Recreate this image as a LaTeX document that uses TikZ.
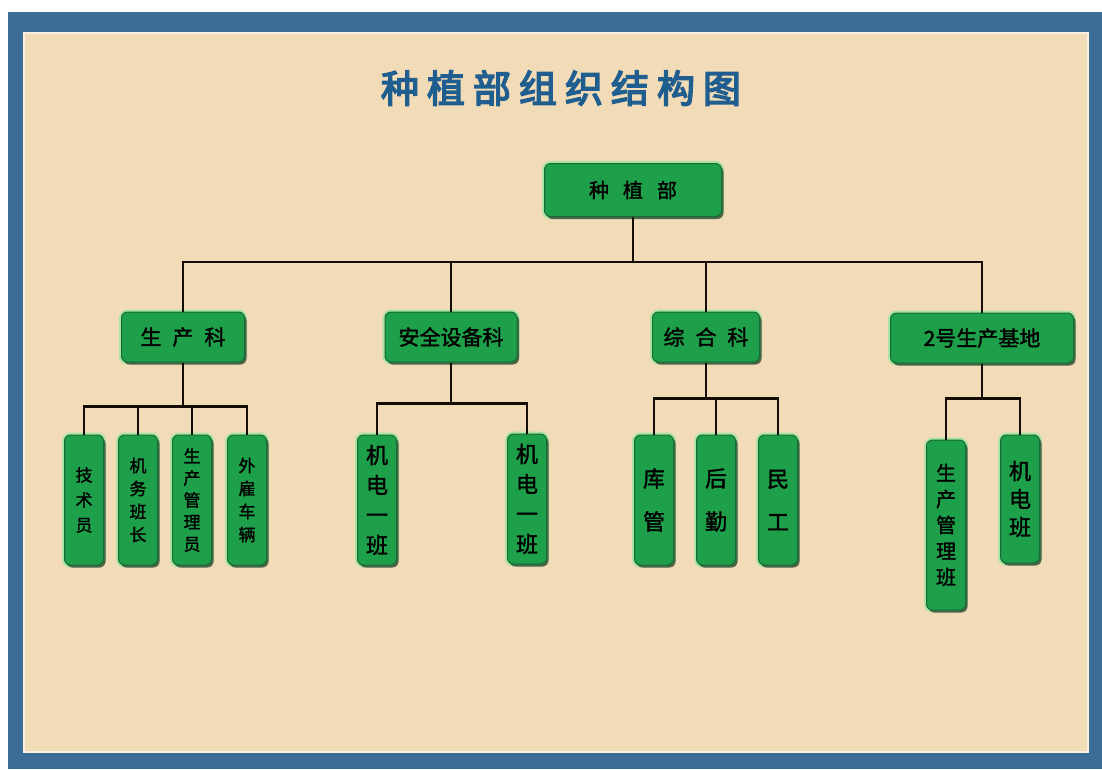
\documentclass[tikz,border=0pt]{standalone}
\usepackage{fontspec}
\usepackage{tikz}
\usetikzlibrary{shadows}
\newfontfamily\cjk[FakeBold=1.5]{Noto Sans CJK SC}
\newfontfamily\titlecjk[FakeBold=4]{Noto Sans CJK SC}
\definecolor{paper}{HTML}{F2DCB8}
\definecolor{frameblue}{HTML}{3B6E94}
\definecolor{boxgreen}{HTML}{1E9F4A}
\definecolor{boxedge}{HTML}{166B34}
\definecolor{halo}{HTML}{A9E3A4}
\definecolor{titleblue}{HTML}{1F5E8E}
\tikzset{
	box/.style = {rounded corners=6pt, fill=boxgreen, draw=boxedge, line width=1pt, inner sep=0pt,
		preaction={draw=halo, line width=5pt}, drop shadow={shadow xshift=2pt, shadow yshift=-2.5pt, fill=black, opacity=.55},
		font=\cjk, text=black},
	head/.style = {box, minimum width=177, minimum height=53, font=\cjk\fontsize{20}{24}\selectfont},
	dept/.style = {box, minimum height=50, font=\cjk\fontsize{21}{25}\selectfont},
	leaf/.style = {box, minimum width=39, minimum height=130, align=center},
	link/.style = {line width=2.6pt, black!90!brown}
}
\begin{document}
\begin{tikzpicture}[x=1pt, y=-1pt]
	\useasboundingbox (0,0) rectangle (1102,769);
	\fill[white] (0,0) rectangle (1102,769);
	\fill[frameblue] (8,12) rectangle (1102,769);
	\fill[paper] (23,32) rectangle (1089,753);
	\draw[white!60!paper, line width=2pt] (24,33) rectangle (1088,752);

	\node[font=\titlecjk\fontsize{38}{40}\selectfont, text=titleblue] (title) at (561,88)
		{种\hspace{8pt}植\hspace{8pt}部\hspace{8pt}组\hspace{8pt}织\hspace{8pt}结\hspace{8pt}构\hspace{8pt}图};

	\node[head] (root) at (633,190) {种\hspace{14pt}植\hspace{14pt}部};

	\node[dept, minimum width=123] (kA) at (183,337) {生\hspace{11pt}产\hspace{11pt}科};
	\node[dept, minimum width=132] (kB) at (451,337) {安全设备科};
	\node[dept, minimum width=107] (kC) at (706,337) {综\hspace{11pt}合\hspace{11pt}科};
	\node[dept, minimum width=183] (kD) at (982,338) {2号生产基地};

	\node[leaf, font=\cjk\fontsize{17}{25}\selectfont] (a1) at (84,500) {技\\术\\员};
	\node[leaf, font=\cjk\fontsize{17}{23}\selectfont] (a2) at (138,500) {机\\务\\班\\长};
	\node[leaf, font=\cjk\fontsize{17}{22}\selectfont] (a3) at (192,500) {生\\产\\管\\理\\员};
	\node[leaf, font=\cjk\fontsize{17}{23}\selectfont] (a4) at (247,500) {外\\雇\\车\\辆};

	\node[leaf, font=\cjk\fontsize{22}{30}\selectfont] (b1) at (377,500) {机\\电\\一\\班};
	\node[leaf, font=\cjk\fontsize{22}{30}\selectfont] (b2) at (527,499) {机\\电\\一\\班};

	\node[leaf, font=\cjk\fontsize{22}{43}\selectfont] (c1) at (654,500) {库\\管};
	\node[leaf, font=\cjk\fontsize{22}{43}\selectfont] (c2) at (716,500) {后\\勤};
	\node[leaf, font=\cjk\fontsize{22}{43}\selectfont] (c3) at (778,500) {民\\工};

	\node[leaf, minimum height=170, font=\cjk\fontsize{20}{26}\selectfont] (d1) at (946,525) {生\\产\\管\\理\\班};
	\node[leaf, minimum height=128, font=\cjk\fontsize{22}{28}\selectfont] (d2) at (1020,499) {机\\电\\班};

	\foreach \k in {kA,kB,kC,kD}
		\draw[link] (root.south) -- ++(0,45) -| (\k.north);
	\foreach \c in {a1,a2,a3,a4}
		\draw[link] (kA.south) -- ++(0,44) -| (\c.north);
	\foreach \c in {b1,b2}
		\draw[link] (kB.south) -- ++(0,41) -| (\c.north);
	\foreach \c in {c1,c2,c3}
		\draw[link] (kC.south) -- ++(0,36) -| (\c.north);
	\foreach \c in {d1,d2}
		\draw[link] (kD.south) -- ++(0,35) -| (\c.north);
\end{tikzpicture}
\end{document}
